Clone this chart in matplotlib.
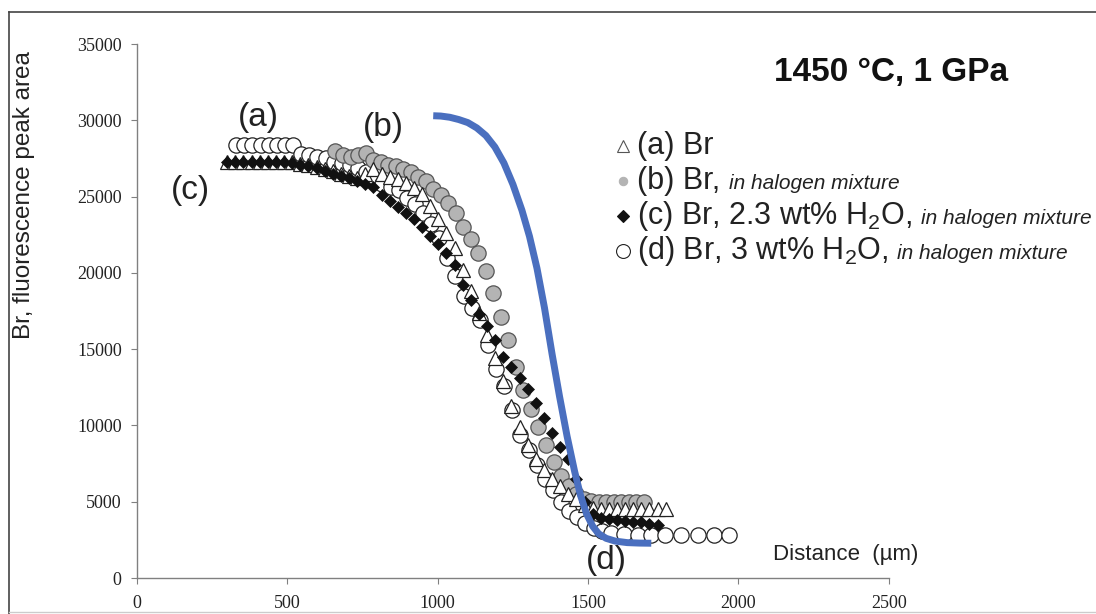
import matplotlib
matplotlib.use("Agg")
import matplotlib.pyplot as plt
from matplotlib.lines import Line2D
from matplotlib.offsetbox import TextArea, HPacker, DrawingArea, AnnotationBbox

SANS = "Liberation Sans"
SERIF = "Liberation Serif"

# (a) Br  - open triangles
a_x = [300, 327, 354, 381, 408, 435, 462, 489, 516, 543, 570, 597, 624, 651, 678, 705,
       732, 759, 786, 813, 840, 867, 894, 921, 948, 975, 1002, 1029, 1056, 1083, 1110,
       1137, 1164, 1191, 1218, 1245, 1272, 1299, 1326, 1353, 1380, 1407, 1434, 1461,
       1488, 1515, 1542, 1569, 1596, 1623, 1650, 1677, 1704, 1731, 1758]
a_y = [27300, 27300, 27300, 27300, 27300, 27300, 27300, 27300, 27250, 27150, 27050,
       26950, 26800, 26650, 26500, 26350, 26250, 26500, 26800, 26500, 26300, 26150,
       25900, 25550, 25150, 24400, 23500, 22600, 21600, 20200, 18800, 17400, 15900,
       14400, 12900, 11300, 9900, 8700, 7800, 7100, 6500, 6000, 5500, 5150, 4800, 4600,
       4550, 4550, 4550, 4550, 4550, 4550, 4550, 4550, 4550]

# (b) Br, in halogen mixture - grey circles
b_x = [660, 685, 710, 735, 760, 785, 810, 835, 860, 885, 910, 935, 960, 985, 1010, 1035,
       1060, 1085, 1110, 1135, 1160, 1185, 1210, 1235, 1260, 1285, 1310, 1335, 1360,
       1385, 1410, 1435, 1460, 1485, 1510, 1535, 1560, 1585, 1610, 1635, 1660, 1685]
b_y = [28000, 27700, 27600, 27700, 27850, 27400, 27250, 27100, 27000, 26800, 26600,
       26300, 26000, 25500, 25100, 24600, 23900, 23000, 22200, 21300, 20100, 18700,
       17100, 15600, 13800, 12300, 11100, 9900, 8700, 7600, 6700, 6000, 5500, 5200,
       5050, 5000, 5000, 4950, 4950, 4950, 4950, 4950]

# (c) Br, 2.3 wt% H2O, in halogen mixture - black diamonds
c_x = [300, 327, 354, 381, 408, 435, 462, 489, 516, 543, 570, 597, 624, 651, 678, 705,
       732, 759, 786, 813, 840, 867, 894, 921, 948, 975, 1002, 1029, 1056, 1083, 1110,
       1137, 1164, 1191, 1218, 1245, 1272, 1299, 1326, 1353, 1380, 1407, 1434, 1461,
       1488, 1515, 1542, 1569, 1596, 1623, 1650, 1677, 1704, 1731]
c_y = [27300, 27300, 27300, 27300, 27300, 27300, 27300, 27300, 27200, 27100, 27000,
       26900, 26700, 26500, 26350, 26200, 26000, 25850, 25600, 25100, 24700, 24300,
       23900, 23500, 23000, 22400, 21900, 21300, 20500, 19200, 18200, 17300, 16500,
       15600, 14500, 13800, 13100, 12400, 11500, 10500, 9500, 8600, 7800, 6500, 5000,
       4200, 3950, 3850, 3800, 3750, 3700, 3650, 3550, 3500]

# (d) Br, 3 wt% H2O, in halogen mixture - open circles
d_x = [330, 357, 384, 411, 438, 465, 492, 519, 546, 573, 600, 627, 654, 681, 708, 735,
       762, 789, 816, 843, 870, 897, 924, 951, 978, 1005, 1032, 1059, 1086, 1113, 1140,
       1167, 1194, 1221, 1248, 1275, 1302, 1329, 1356, 1383, 1410, 1437, 1464, 1491,
       1518, 1545, 1575, 1620, 1665, 1710, 1755, 1810, 1865, 1918, 1970]
d_y = [28400, 28400, 28400, 28400, 28400, 28400, 28400, 28400, 27800, 27700, 27600,
       27500, 27300, 27200, 27050, 26900, 26600, 26100, 25800, 25600, 25400, 24900,
       24500, 23900, 23200, 22300, 21000, 19800, 18500, 17700, 16900, 15300, 13700,
       12600, 11000, 9400, 8400, 7400, 6500, 5800, 5000, 4400, 4000, 3600, 3300, 3100,
       2950, 2900, 2850, 2850, 2850, 2850, 2850, 2850, 2850]

# model curve
fit_x = [985, 1010, 1040, 1070, 1100, 1130, 1160, 1190, 1220, 1250, 1280, 1305, 1330,
         1355, 1380, 1405, 1430, 1455, 1475, 1495, 1515, 1535, 1560, 1590, 1630, 1670,
         1710]
fit_y = [30300, 30280, 30200, 30050, 29850, 29500, 29000, 28250, 27200, 25800, 24100,
         22400, 20300, 17700, 14700, 11900, 9300, 7000, 5400, 4200, 3400, 2900, 2600,
         2420, 2320, 2290, 2280]

x_ticks = [0, 500, 1000, 1500, 2000, 2500]
y_ticks = [0, 5000, 10000, 15000, 20000, 25000, 30000, 35000]

fig = plt.figure(figsize=(10.96, 6.14), dpi=100)
ax = fig.add_axes([0.125, 0.0586, 0.686, 0.8697])

ax.plot(d_x, d_y, ls="none", marker="o", ms=11, mfc="white", mec="#222222", mew=0.9,
        zorder=2, clip_on=False)
ax.plot(b_x, b_y, ls="none", marker="o", ms=11, mfc="#b4b4b4", mec="#555555", mew=0.9,
        zorder=3, clip_on=False)
ax.plot(a_x, a_y, ls="none", marker="^", ms=10, mfc="white", mec="#222222", mew=0.9,
        zorder=4, clip_on=False)
ax.plot(c_x, c_y, ls="none", marker="D", ms=6, mfc="#111111", mec="#111111", mew=0.5,
        zorder=5, clip_on=False)
ax.plot(fit_x, fit_y, color="#4a6fbf", lw=5, solid_capstyle="butt",
        solid_joinstyle="round", zorder=6, clip_on=False)

ax.set_xlim(0, 2500)
ax.set_ylim(0, 35000)
ax.set_xticks(x_ticks)
ax.set_yticks(y_ticks)
for s in ["top", "right"]:
    ax.spines[s].set_visible(False)
for s in ["left", "bottom"]:
    ax.spines[s].set_color("#808080")
    ax.spines[s].set_linewidth(1.0)
ax.tick_params(axis="both", direction="out", length=4, color="#808080", labelsize=13,
               labelcolor="#222222")
ax.tick_params(axis="x", pad=8)
ax.tick_params(axis="y", pad=7)
for lab in ax.get_xticklabels() + ax.get_yticklabels():
    lab.set_family(SERIF)

ax.set_ylabel("Br, fluorescence peak area", fontsize=17.5, family=SANS, color="#222222")
ax.yaxis.set_label_coords(-0.136, 0.717)

ax.text(2357, 1510, "Distance  (µm)", fontsize=16, family=SANS, ha="center",
        va="center", color="#222222")
ax.text(2507, 33160, "1450 °C, 1 GPa", fontsize=24, family=SANS, weight="bold",
        ha="center", va="center", color="#111111")

for lbl, (lx, ly) in zip(["(a)", "(b)", "(c)", "(d)"],
                         [(403, 30210), (820, 29560), (177, 25430), (1560, 1180)]):
    ax.text(lx, ly, lbl, fontsize=24, family=SANS, ha="center", va="center",
            color="#222222", clip_on=False)


# legend built from pieces so the italic part can be smaller
def legend_row(marker, ms, mfc, mec, main, italic):
    da = DrawingArea(14, 14, 0, 0)
    da.add_artist(Line2D([7], [7], ls="none", marker=marker, ms=ms, mfc=mfc, mec=mec,
                         mew=0.8))
    parts = [TextArea(main, textprops=dict(fontsize=22, family=SANS, color="#222222"))]
    if italic:
        parts.append(TextArea(italic, textprops=dict(fontsize=15, family=SANS,
                                                     style="italic", color="#222222")))
    txt = HPacker(children=parts, align="baseline", pad=0, sep=6)
    return HPacker(children=[da, txt], align="center", pad=0, sep=3)


rows = [
    (("^", 9, "white", "#555555"), "(a) Br", None),
    (("o", 6, "#b4b4b4", "#b4b4b4"), "(b) Br,", "in halogen mixture"),
    (("D", 6, "#111111", "#111111"), r"(c) Br, 2.3 wt% H$_\mathregular{2}$O,",
     "in halogen mixture"),
    (("o", 10, "white", "#222222"), r"(d) Br, 3 wt% H$_\mathregular{2}$O,",
     "in halogen mixture"),
]
row_y = [28300, 26000, 23750, 21450]
for (mk, main, it), ry in zip(rows, row_y):
    box = legend_row(*mk, main, it)
    ab = AnnotationBbox(box, (1585, ry), xycoords="data", box_alignment=(0, 0.5),
                        frameon=False, annotation_clip=False, pad=0)
    ax.add_artist(ab)

# thin frame round the figure
fig.add_artist(Line2D([0.0082, 0.0082], [0.0, 0.980], color="#444444", lw=1.2))
fig.add_artist(Line2D([0.0082, 1.0], [0.980, 0.980], color="#444444", lw=1.2))
fig.add_artist(Line2D([0.0082, 1.0], [0.004, 0.004], color="#cccccc", lw=1.0))

fig.savefig("out.png", dpi=100)
